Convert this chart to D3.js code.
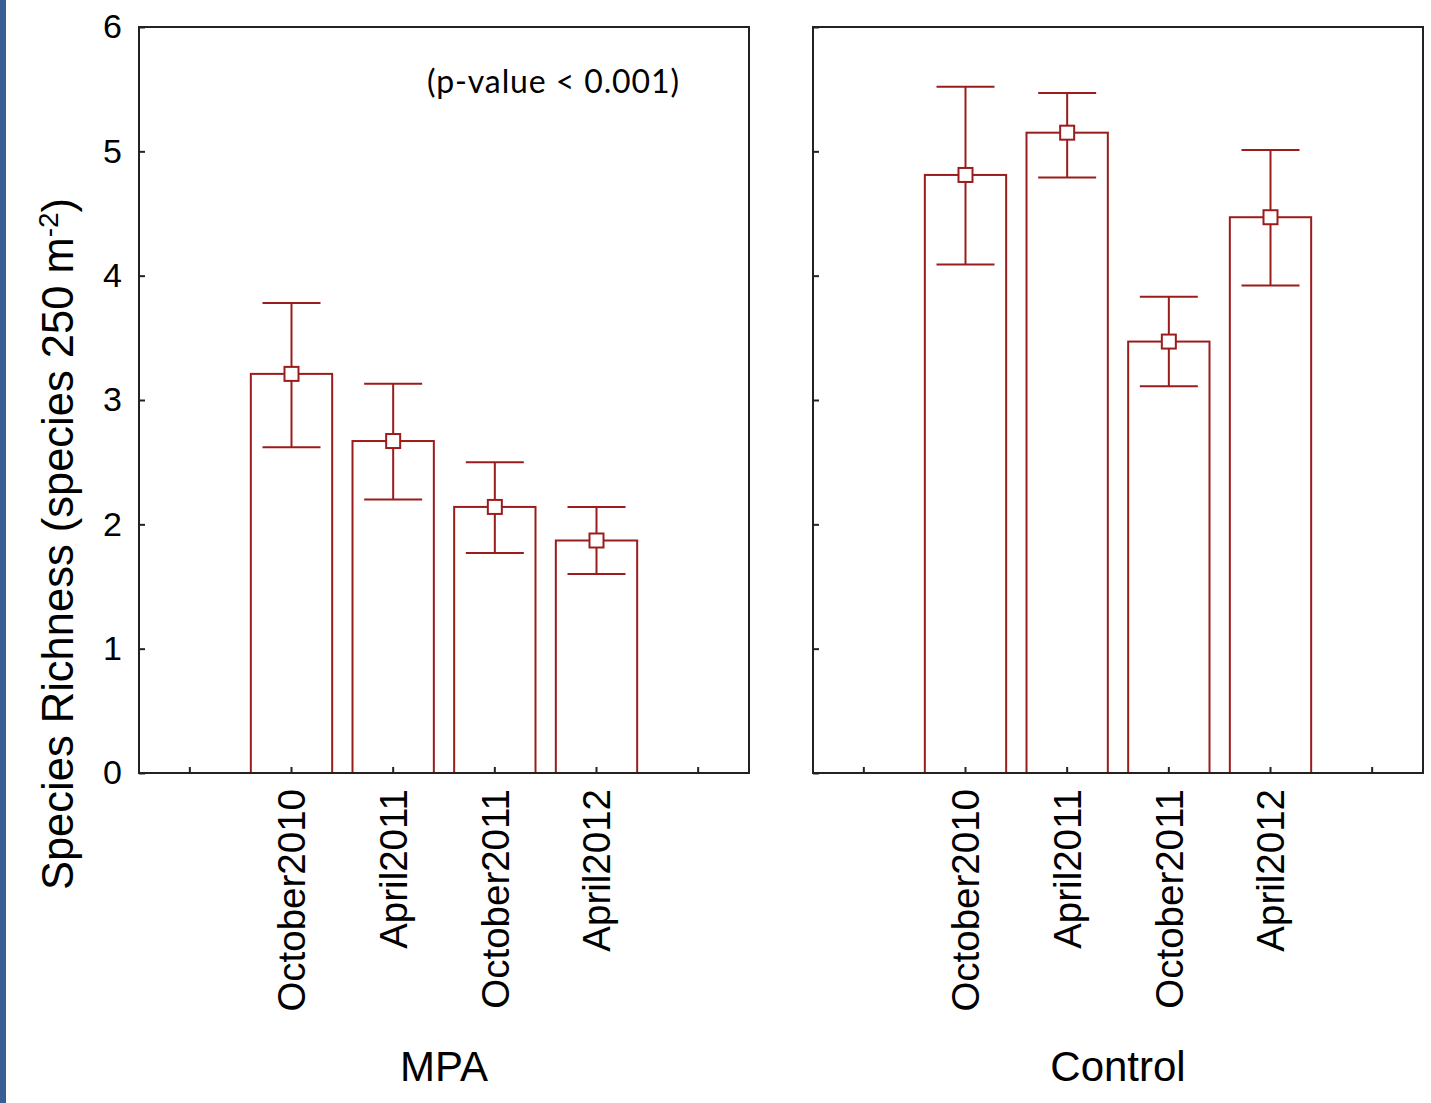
<!DOCTYPE html>
<html>
<head>
<meta charset="utf-8">
<script src="https://cdn.jsdelivr.net/npm/d3@7"></script>
<style>
  body { margin: 0; background: #fff; }
  svg { display: block; }
</style>
</head>
<body>
<svg id="main_svg" width="1431" height="1103"></svg>
<script>
// data
const categories = ["October2010", "April2011", "October2011", "April2012"];
const mpaMean = [3.21, 2.67, 2.14, 1.87];
const mpaUpper = [3.78, 3.13, 2.50, 2.14];
const mpaLower = [2.62, 2.20, 1.77, 1.60];
const controlMean = [4.81, 5.15, 3.47, 4.47];
const controlUpper = [5.52, 5.47, 3.83, 5.01];
const controlLower = [4.09, 4.79, 3.11, 3.92];
const groups = ["MPA", "Control"];
const yTicks = [0, 1, 2, 3, 4, 5, 6];

const width = 1431, height = 1103;
const plotTop = 27, plotBottom = 773;
const panels = [{x0: 139, x1: 749}, {x0: 813, x1: 1423}];
const barColor = "#9b1c1c";
const font = "'Liberation Sans', Arial, sans-serif";

const svg = d3.select("#main_svg");

// blue strip on the left edge
svg.append("rect").attr("x", 0).attr("y", 0).attr("width", 6).attr("height", height).attr("fill", "#375f93");

const y = d3.scaleLinear().domain([0, 6]).range([plotBottom, plotTop]);

const series = [
  {mean: mpaMean, upper: mpaUpper, lower: mpaLower},
  {mean: controlMean, upper: controlUpper, lower: controlLower}
];

panels.forEach((p, gi) => {
  // one empty slot each side of the categories
  const slots = ["_a", ...categories, "_b"];
  const x = d3.scaleBand().domain(slots).range([p.x0, p.x1]).padding(0);
  const bw = x.bandwidth();
  const cx = d => x(d) + bw / 2;
  const g = svg.append("g");
  const s = series[gi];
  const rows = categories.map((c, i) => ({cat: c, mean: s.mean[i], hi: s.upper[i], lo: s.lower[i]}));

  // bars
  g.selectAll(".bar").data(rows).enter().append("rect")
    .attr("class", "bar")
    .attr("x", d => cx(d.cat) - bw * 0.4)
    .attr("width", bw * 0.8)
    .attr("y", d => y(d.mean))
    .attr("height", d => y(0) - y(d.mean))
    .attr("fill", "#fff").attr("stroke", barColor).attr("stroke-width", 2);

  // error bars
  g.selectAll(".whisk").data(rows).enter().append("line")
    .attr("x1", d => cx(d.cat)).attr("x2", d => cx(d.cat))
    .attr("y1", d => y(d.hi)).attr("y2", d => y(d.lo))
    .attr("stroke", barColor).attr("stroke-width", 2);
  ["hi", "lo"].forEach(k => {
    g.selectAll(".cap_" + k).data(rows).enter().append("line")
      .attr("x1", d => cx(d.cat) - 29).attr("x2", d => cx(d.cat) + 29)
      .attr("y1", d => y(d[k])).attr("y2", d => y(d[k]))
      .attr("stroke", barColor).attr("stroke-width", 2);
  });
  g.selectAll(".marker").data(rows).enter().append("rect")
    .attr("x", d => cx(d.cat) - 7).attr("y", d => y(d.mean) - 7)
    .attr("width", 14).attr("height", 14)
    .attr("fill", "#fff").attr("stroke", barColor).attr("stroke-width", 2);

  // y axis, inward ticks
  const yAxis = d3.axisLeft(y).tickValues(yTicks).tickSizeInner(-6).tickSizeOuter(0).tickPadding(17)
    .tickFormat(gi === 0 ? d3.format("d") : () => "");
  const ya = svg.append("g").attr("transform", "translate(" + p.x0 + ",0)").call(yAxis);
  ya.select(".domain").remove();
  ya.selectAll("line").attr("stroke", "#222").attr("stroke-width", 2);
  ya.selectAll("text").attr("font-family", font).attr("font-size", 34).attr("fill", "#000");

  // x axis, inward ticks
  const xAxis = d3.axisBottom(x).tickSizeInner(-6).tickSizeOuter(0).tickFormat(d => d.startsWith("_") ? "" : d);
  const xa = svg.append("g").attr("transform", "translate(0," + plotBottom + ")").call(xAxis);
  xa.select(".domain").remove();
  xa.selectAll("line").attr("stroke", "#222").attr("stroke-width", 2);
  xa.selectAll("text")
    .attr("font-family", font).attr("font-size", 38.5).attr("fill", "#000")
    .attr("text-anchor", "end")
    .attr("transform", "rotate(-90)")
    .attr("x", -16).attr("y", 0).attr("dy", "0.36em");

  // frame
  svg.append("rect").attr("x", p.x0).attr("y", plotTop)
    .attr("width", p.x1 - p.x0).attr("height", plotBottom - plotTop)
    .attr("fill", "none").attr("stroke", "#222").attr("stroke-width", 2);

  // group label
  svg.append("text").attr("x", (p.x0 + p.x1) / 2).attr("y", 1081)
    .attr("text-anchor", "middle").attr("font-family", font).attr("font-size", 42)
    .text(groups[gi]);
});

// y axis title
const yt = svg.append("text")
  .attr("transform", "translate(73,544) rotate(-90)")
  .attr("text-anchor", "middle").attr("font-family", font).attr("font-size", 43.5);
yt.append("tspan").text("Species Richness (species 250 m");
yt.append("tspan").attr("font-size", 28).attr("baseline-shift", "super").text("-2");
yt.append("tspan").text(")");

// annotation
svg.append("text").attr("x", 427).attr("y", 93)
  .attr("font-family", "Lato, 'Open Sans', sans-serif").attr("font-size", 32)
  .attr("textLength", 252)
  .text("(p-value < 0.001)");
</script>
</body>
</html>
